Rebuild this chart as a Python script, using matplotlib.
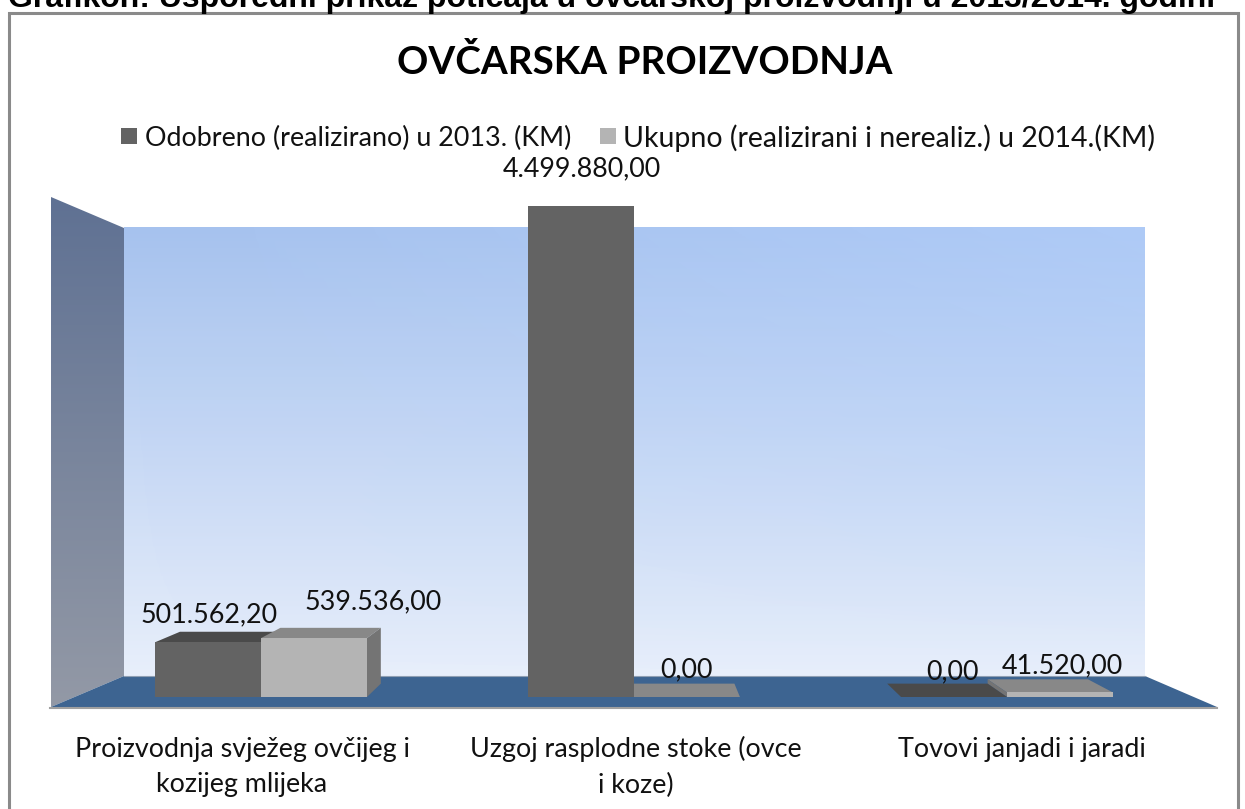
import numpy as np
import matplotlib
matplotlib.use("Agg")
import matplotlib.pyplot as plt
from matplotlib.patches import Polygon, Rectangle

plt.rcParams['font.family'] = ['Lato', 'DejaVu Sans']

W, H = 1245, 809

caption = "Grafikon: Usporedni prikaz poticaja u ovčarskoj proizvodnji u 2013/2014. godini"
title = "OVČARSKA PROIZVODNJA"
series_names = ["Odobreno (realizirano) u 2013. (KM)",
                "Ukupno (realizirani i nerealiz.) u 2014.(KM)"]
categories = ["Proizvodnja svježeg ovčijeg i\nkozijeg mlijeka",
              "Uzgoj rasplodne stoke (ovce\ni koze)",
              "Tovovi janjadi i jaradi"]
values_2013 = [501562.20, 4499880.00, 0.00]
values_2014 = [539536.00, 0.00, 41520.00]
labels_2013 = ["501.562,20", "4.499.880,00", "0,00"]
labels_2014 = ["539.536,00", "0,00", "41.520,00"]

front_colors = ["#636363", "#b4b4b4"]
top_colors = ["#4a4a4a", "#888888"]
side_colors = ["#4a4a4a", "#747474"]

fig = plt.figure(figsize=(W / 100, H / 100), dpi=100, facecolor="white")

# background in pixel coordinates: frame, walls, floor
bg = fig.add_axes([0, 0, 1, 1])
bg.set_xlim(0, W)
bg.set_ylim(H, 0)
bg.axis("off")

bg.add_patch(Rectangle((9, 13), 1229, 800, fc="white", ec="#8a8a8a", lw=2.2))

# back wall gradient
grad = np.linspace(0, 1, 256).reshape(-1, 1, 1)
c_top = np.array([0xa6, 0xc2, 0xee]) / 255
c_bot = np.array([0xe8, 0xef, 0xfb]) / 255
back = c_top * (1 - grad) + c_bot * grad
bg.imshow(back, extent=(124, 1145, 676, 227), aspect="auto", zorder=1)
skew = np.linspace(0, 1, 256).reshape(1, -1)
overlay = np.zeros((256, 256, 4))
overlay[..., :3] = [0.72, 0.83, 1.0]
overlay[..., 3] = skew * 0.5 * (1 - grad[..., 0])
bg.imshow(overlay, extent=(124, 1145, 676, 227), aspect="auto", zorder=1.1)

# left wall gradient, clipped to its shape
side = np.array([0x5f, 0x71, 0x93]) / 255 * (1 - grad) + np.array([0x93, 0x99, 0xa6]) / 255 * grad
side_img = bg.imshow(side, extent=(51, 124, 707, 197), aspect="auto", zorder=1.2)
side_poly = Polygon([(51, 197), (124, 228), (124, 676), (51, 707)], closed=True,
                    fc="none", ec="none", transform=bg.transData)
bg.add_patch(side_poly)
side_img.set_clip_path(side_poly)
bg.set_xlim(0, W)
bg.set_ylim(H, 0)

bg.add_patch(Polygon([(51, 707), (124, 676), (1145, 676), (1217, 707)], closed=True,
                     fc="#3d6491", ec="none", zorder=1.3))
bg.plot([50, 1217], [707.5, 707.5], color="#a0a0a0", lw=1.5, zorder=1.4)
bg.plot([124, 1145], [676, 676], color="#8f9fb3", lw=0.8, zorder=1.4)

bg.text(8, 7, caption, family=["Liberation Sans"], fontweight="bold", fontsize=23,
        color="black", ha="left", va="baseline", zorder=3)
bg.text(645, 62, title, fontweight="bold", fontsize=27.8, color="black",
        ha="center", va="center", zorder=3)

# legend
bg.add_patch(Rectangle((121, 128), 16, 16, fc=front_colors[0], ec="none", zorder=3))
bg.text(145, 138, series_names[0], fontsize=19.4, color="#111111", ha="left", va="center", zorder=3)
bg.add_patch(Rectangle((600, 128), 16, 16, fc=front_colors[1], ec="none", zorder=3))
bg.text(623, 138, series_names[1], fontsize=20.5, color="#111111", ha="left", va="center", zorder=3)

# category labels sit on the front edge of the floor
for cx, cat in zip([242, 636, 1022], categories):
    bg.text(cx, 767 if "\n" in cat else 749, cat, fontsize=19.4, color="#111111", ha="center",
            va="center", linespacing=1.5, zorder=3)

# data axes: the bars
ax = fig.add_axes([74.5 / W, (H - 697) / H, 1119 / W, 500 / H], zorder=2)
ax.patch.set_alpha(0)
ax.set_xlim(-0.5, 2.5)
ax.set_ylim(0, 4582000)
ax.axis("off")

bar_w = 0.284
depth = 0.052
vp_x, vp_y = 1.0, 2355000.0


def to_back(x, y):
    return x + (vp_x - x) * depth, y + (vp_y - y) * depth


def draw_box(x0, x1, val, i, z):
    # top face visible below the eye level, side face visible away from the centre
    if val < vp_y:
        pts = [(x0, val), (x1, val), to_back(x1, val), to_back(x0, val)]
        ax.add_patch(Polygon(pts, closed=True, fc=top_colors[i], ec="none", zorder=z, clip_on=False))
    if x1 < vp_x - 1e-6 and val > 0:
        pts = [(x1, 0), (x1, val), to_back(x1, val), to_back(x1, 0)]
        ax.add_patch(Polygon(pts, closed=True, fc=side_colors[i], ec="none", zorder=z, clip_on=False))
    if x0 > vp_x + 1e-6 and val > 0:
        pts = [(x0, 0), (x0, val), to_back(x0, val), to_back(x0, 0)]
        ax.add_patch(Polygon(pts, closed=True, fc=side_colors[i], ec="none", zorder=z, clip_on=False))


x = np.arange(len(categories))
for j in x:
    draw_box(j - bar_w, j, values_2013[j], 0, 2 + (j > 1) * 1.5)
    draw_box(j, j + bar_w, values_2014[j], 1, 3 - (j > 1) * 0.5)
ax.bar(x - bar_w / 2, values_2013, bar_w, color=front_colors[0], zorder=4, clip_on=False)
ax.bar(x + bar_w / 2, values_2014, bar_w, color=front_colors[1], zorder=4, clip_on=False)

# value labels, offset in pixels from the top of each bar
offs_2013 = [(1, 27), (1, 37), (-2, 25)]
offs_2014 = [(59, 36), (0, 27), (2, 27)]
for j in x:
    ax.annotate(labels_2013[j], (j - bar_w / 2, values_2013[j]), xytext=offs_2013[j],
                textcoords="offset pixels", fontsize=19.4, color="#111111",
                ha="center", va="center", zorder=6, annotation_clip=False)
    ax.annotate(labels_2014[j], (j + bar_w / 2, values_2014[j]), xytext=offs_2014[j],
                textcoords="offset pixels", fontsize=19.4, color="#111111",
                ha="center", va="center", zorder=6, annotation_clip=False)

fig.savefig("out.png", dpi=100)
